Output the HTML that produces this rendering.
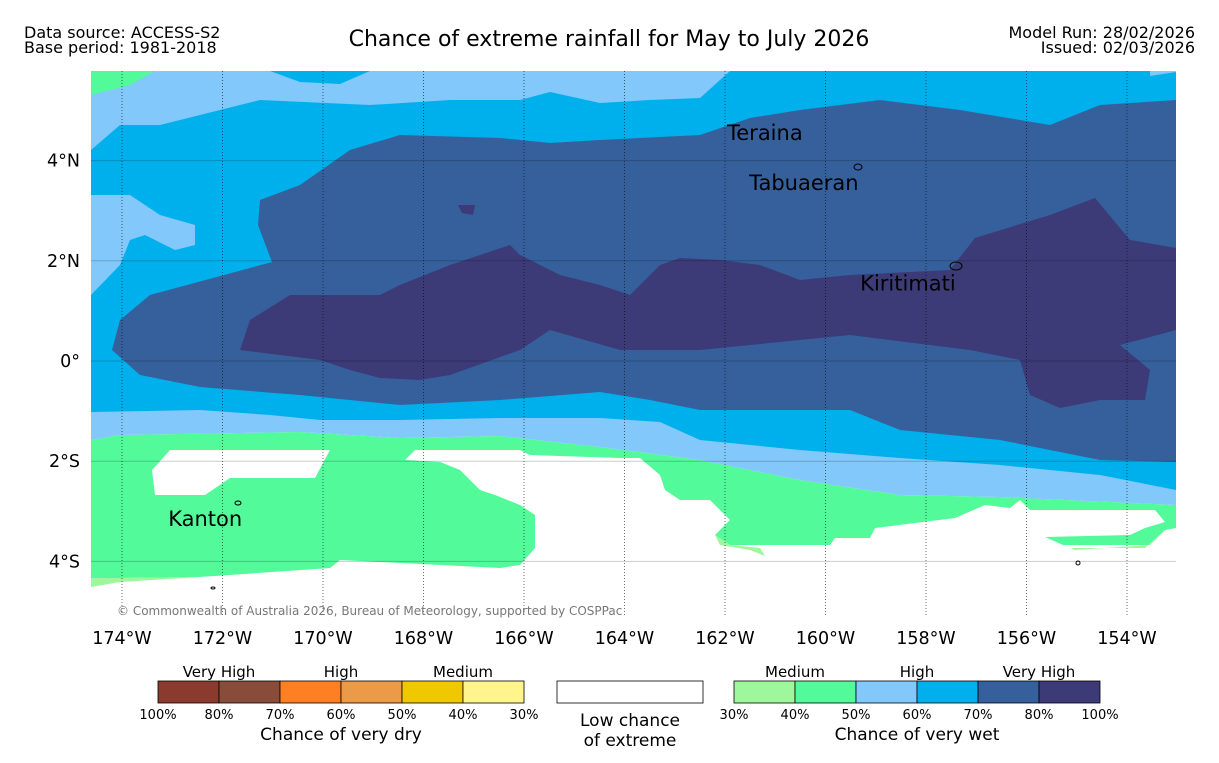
<!DOCTYPE html>
<html><head><meta charset="utf-8"><style>
body{margin:0;background:#fff;width:1219px;height:758px;overflow:hidden;font-family:"Liberation Sans","DejaVu Sans",sans-serif}
svg text{font-family:"DejaVu Sans","Liberation Sans",sans-serif}
</style></head><body>
<svg id="chart" width="1219" height="758" xmlns="http://www.w3.org/2000/svg">
<text x="24" y="38" font-size="16">Data source: ACCESS-S2</text>
<text x="24" y="53" font-size="16">Base period: 1981-2018</text>
<text x="609" y="46" font-size="22" text-anchor="middle">Chance of extreme rainfall for May to July 2026</text>
<text x="1195" y="38" font-size="16" text-anchor="end">Model Run: 28/02/2026</text>
<text x="1195" y="53" font-size="16" text-anchor="end">Issued: 02/03/2026</text>
<g id="map"></g>
<g id="axes"></g>
<g id="legend"></g>
</svg>
<script>
const lonTicks=[-174,-172,-170,-168,-166,-164,-162,-160,-158,-156,-154];
const latTicks=[4,2,0,-2,-4];
const legendDryColors=["#8b3a2e","#8a4c3a","#ff7f22","#eb9a47","#f0c800","#fff58c"];
const legendWetColors=["#9ef79a","#52fa9a","#82c8fa","#00b0ec","#35609c","#3d3a78"];
const legendDryTicks=["100%","80%","70%","60%","50%","40%","30%"];
const legendWetTicks=["30%","40%","50%","60%","70%","80%","100%"];
const places=[["Teraina",-161.96,4.55],["Tabuaeran",-161.52,3.55],["Kiritimati",-159.31,1.55],["Kanton",-173.08,-3.15]];
const X0=122,XS=50.25,Y0=361,YS=50.1;
const xs=lon=>X0+(lon+174)*XS, ys=lat=>Y0-lat*YS;
const inv=p=>[-174+(p[0]-X0)/XS,(Y0-p[1])/YS];
const P=a=>a.map(inv);
const regions=[
["white-base","#ffffff",P([[91,71],[1176,71],[1176,615],[91,615]])],
["green-40-50","#52fa9a",P([[91,440],[120,435],[300,432],[400,438],[500,436],[600,447],[700,460],[800,480],[900,495],[1000,497],[1176,505],[1176,528],[1150,545],[1050,545],[760,555],[520,568],[340,570],[200,577],[91,580]])],
["light-blue-50-60","#82c8fa",P([[91,71],[1176,71],[1176,505],[1000,497],[900,495],[800,480],[700,460],[600,447],[500,436],[400,438],[300,432],[120,435],[91,440]])],
["cyan-60-70","#00b0ec",P([[91,150],[120,125],[160,125],[200,115],[260,100],[370,105],[450,100],[520,100],[550,92],[600,103],[650,100],[700,98],[730,71],[1150,71],[1150,76],[1176,72],[1176,490],[1100,475],[1000,465],[900,458],[800,450],[700,440],[660,422],[600,418],[500,418],[400,420],[320,420],[270,415],[200,410],[91,412]])],
["cyan-top-patch","#00b0ec",P([[270,71],[370,71],[340,84],[300,82]])],
["light-blue-left-patch","#82c8fa",P([[91,195],[130,195],[160,215],[195,225],[195,245],[175,250],[145,235],[130,240],[120,265],[91,295]])],
["green-corner","#52fa9a",P([[91,71],[155,71],[130,85],[91,95]])],
["steel-blue-70-80","#35609c",P([[260,200],[300,185],[350,150],[400,135],[500,138],[550,143],[600,140],[700,135],[750,118],[800,110],[880,100],[960,110],[1050,125],[1100,105],[1176,100],[1176,462],[1100,460],[1000,440],[900,430],[850,410],[700,410],[650,400],[600,392],[500,400],[400,405],[300,395],[200,387],[140,375],[112,350],[120,320],[150,295],[272,262],[258,225]])],
["purple-80-100","#3d3a78",P([[240,350],[250,320],[290,295],[380,295],[400,285],[450,265],[510,245],[520,255],[560,275],[600,285],[630,295],[660,265],[680,258],[720,260],[760,265],[800,280],[850,275],[950,270],[975,238],[1050,215],[1095,198],[1130,240],[1176,248],[1176,330],[1120,345],[1150,370],[1145,400],[1100,400],[1060,408],[1030,395],[1020,360],[970,350],[930,345],[850,335],[750,345],[700,350],[620,350],[550,330],[520,350],[450,375],[420,380],[380,378],[350,370],[320,360],[280,355]])],
["purple-patch","#3d3a78",P([[458,205],[475,205],[473,215],[462,213]])],
["white-hole-left","#ffffff",P([[170,450],[330,450],[315,478],[230,478],[205,495],[155,495],[152,470]])],
["white-south","#ffffff",P([[405,460],[415,450],[520,450],[530,455],[620,458],[640,458],[660,475],[665,490],[680,500],[710,500],[730,520],[715,535],[730,545],[830,545],[835,538],[870,538],[875,528],[955,518],[985,505],[1010,508],[1020,500],[1030,510],[1155,510],[1165,522],[1145,528],[1130,535],[1045,537],[1070,548],[1145,548],[1165,530],[1176,528],[1176,615],[91,615],[91,585],[120,578],[200,577],[330,568],[340,560],[500,568],[520,565],[535,548],[535,515],[520,505],[495,495],[480,490],[460,470],[440,462]])],
["light-green-30-40","#9ef79a",P([[715,535],[730,545],[760,548],[765,556],[750,550],[720,545]])],
["light-green-strip","#9ef79a",P([[1045,537],[1070,548],[1145,548],[1165,530],[1150,545],[1075,550]])],
["light-green-left","#9ef79a",P([[91,578],[120,578],[200,577],[120,582],[91,587]])]
];
const NS="http://www.w3.org/2000/svg";
function mk(t,a,p){const e=document.createElementNS(NS,t);for(const k in a)e.setAttribute(k,a[k]);p.appendChild(e);return e;}
const map=document.getElementById('map'),axes=document.getElementById('axes'),leg=document.getElementById('legend');
regions.forEach(r=>{
 const e=mk('polygon',{points:r[2].map(q=>xs(q[0])+','+ys(q[1])).join(' '),fill:r[1]},map);
 
 
});
latTicks.forEach(l=>{
 const g=mk('line',{x1:91,x2:1176,y1:ys(l),y2:ys(l),stroke:'#000','stroke-opacity':0.2,'stroke-width':1},axes);
 
 
 const t=mk('text',{x:80,y:ys(l)+6,'font-size':17.5,'text-anchor':'end'},axes);
 t.textContent=l===0?'0°':Math.abs(l)+'°'+(l>0?'N':'S');
 
 
});
lonTicks.forEach(l=>{
 const g=mk('line',{x1:xs(l),x2:xs(l),y1:71,y2:615,stroke:'#000','stroke-width':0.8,'stroke-dasharray':'1,2','stroke-opacity':0.7},axes);
 
 
 const t=mk('text',{x:xs(l),y:644,'font-size':17.5,'text-anchor':'middle'},axes);
 t.textContent=Math.abs(l)+'°W';
 
 
});
places.forEach(p=>{
 const t=mk('text',{x:xs(p[1]),y:ys(p[2])+7,'font-size':21},axes);
 t.textContent=p[0];
 
 
});
[[858,167,4,3],[956,266,6,4],[238,503,3,2],[213,588,2,1],[1078,563,2,2]].forEach(i=>{
 const e=mk('ellipse',{cx:i[0],cy:i[1],rx:i[2],ry:i[3],fill:'none',stroke:'#000','stroke-width':1},axes);
 
 
});
const cp=mk('text',{x:117,y:615,'font-size':12,fill:'#777'},axes);
cp.textContent='© Commonwealth of Australia 2026, Bureau of Meteorology, supported by COSPPac';


function bar(x0,colors,ticks,labels,title,nm){
 colors.forEach((c,i)=>{
  const r=mk('rect',{x:x0+i*61,y:681,width:61,height:22,fill:c,stroke:'#000','stroke-width':0.8},leg);
  
  
 });
 ticks.forEach((t,i)=>{
  const e=mk('text',{x:x0+i*61,y:719,'font-size':13,'text-anchor':'middle'},leg);
  e.textContent=t;
  
  
 });
 labels.forEach((t,i)=>{
  const e=mk('text',{x:x0+61+i*122,y:677,'font-size':15,'text-anchor':'middle'},leg);
  e.textContent=t;
  
  
 });
 const e=mk('text',{x:x0+183,y:740,'font-size':17,'text-anchor':'middle'},leg);
 e.textContent=title;
 
 
}
bar(158,legendDryColors,legendDryTicks,["Very High","High","Medium"],"Chance of very dry","dry-legend");
bar(734,legendWetColors,legendWetTicks,["Medium","High","Very High"],"Chance of very wet","wet-legend");
const wb=mk('rect',{x:557,y:681,width:146,height:22,fill:'#fff',stroke:'#000','stroke-width':0.8},leg);


[["Low chance",726],["of extreme",746]].forEach(a=>{
 const e=mk('text',{x:630,y:a[1],'font-size':17,'text-anchor':'middle'},leg);
 e.textContent=a[0];
 
 
});
</script>
</body></html>
